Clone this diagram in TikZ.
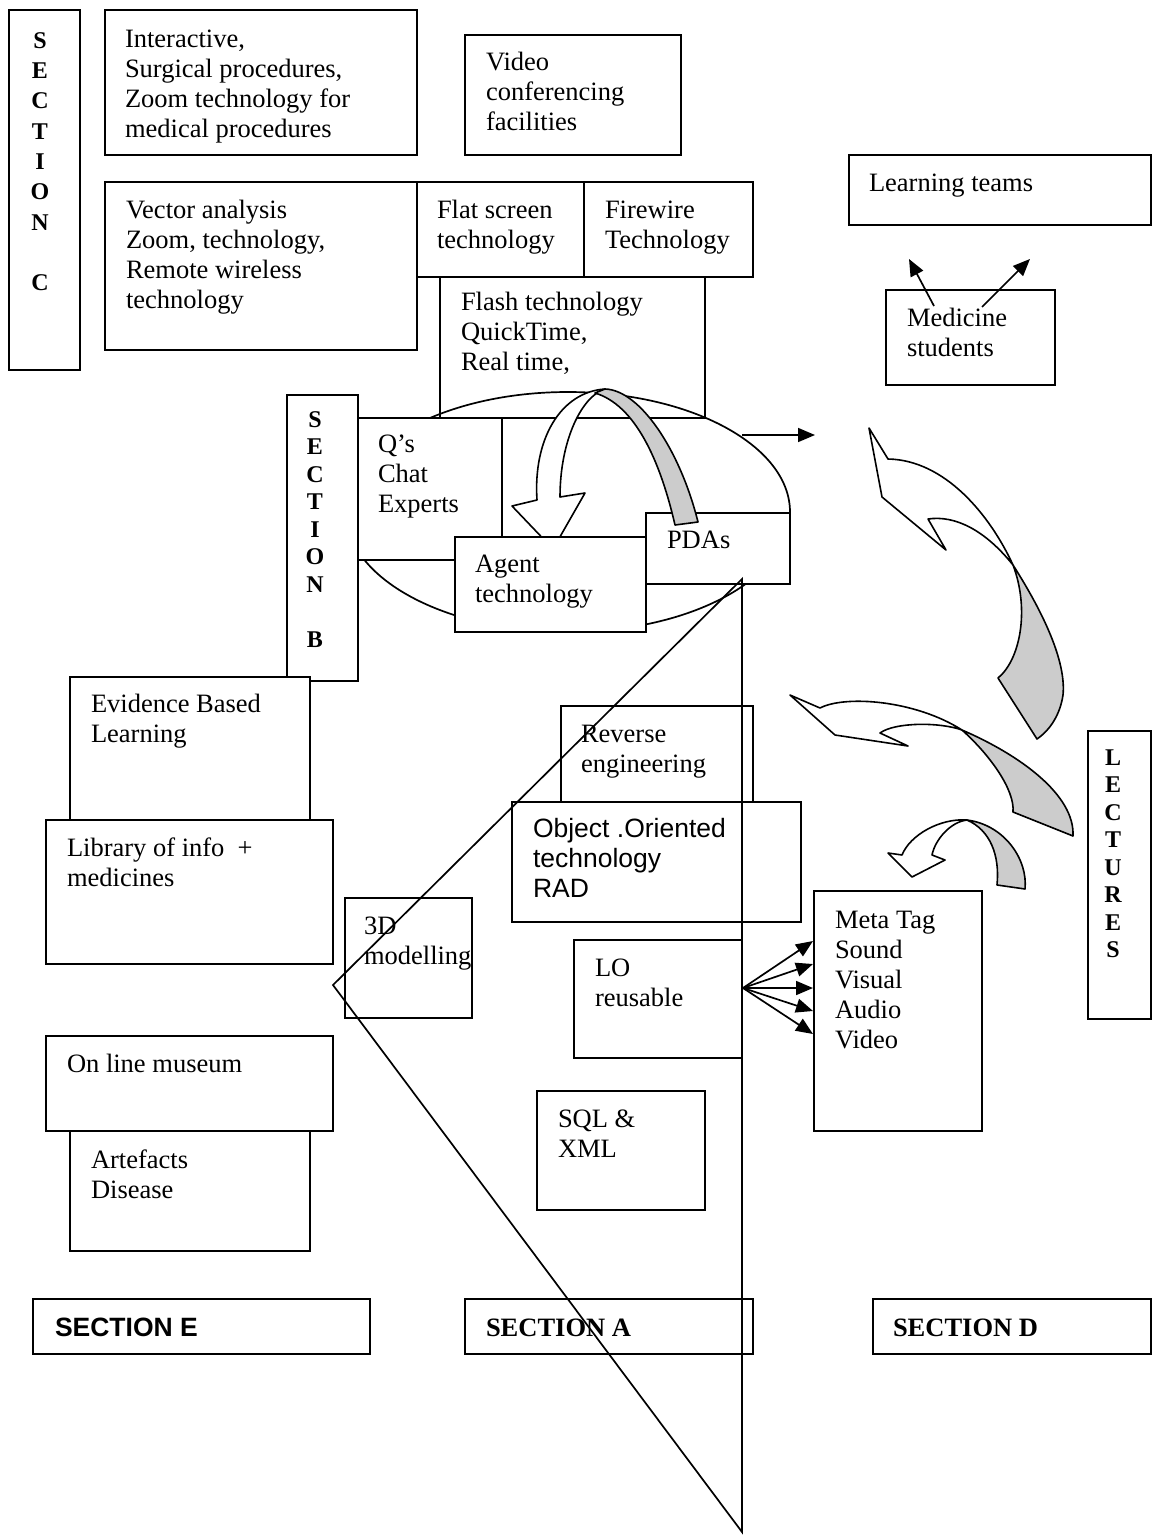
\documentclass[tikz,border=0pt]{standalone}
\usepackage{fontspec}
\setmainfont{Liberation Serif}
\newfontfamily\arialfont{Liberation Sans}
\usetikzlibrary{arrows.meta}
\definecolor{bandgrey}{RGB}{204,204,204}
\tikzset{
 box/.style={draw, line width=1.9pt, fill=white, inner sep=0pt, outer sep=0pt, anchor=north west},
 txt/.style={anchor=north west, align=left, inner sep=0pt, outer sep=0pt, font=\fontsize{26.5}{30}\selectfont},
 stxt/.style={txt, font=\arialfont\fontsize{26.5}{30}\selectfont},
 sbtxt/.style={txt, font=\arialfont\bfseries\fontsize{26.5}{30}\selectfont},
 btxt/.style={txt, font=\bfseries\fontsize{26.5}{30}\selectfont},
 vlet/.style={anchor=north, align=center, inner sep=0pt, outer sep=0pt, font=\bfseries\fontsize{24}{27.5}\selectfont},
 thinline/.style={line width=1.7pt},
 conn/.style={line width=1.7pt, -{Triangle[length=17pt,width=14pt]}},
 bandw/.style={draw, line width=1.6pt, fill=white, line join=round},
 bandg/.style={draw, line width=1.6pt, fill=bandgrey, line join=round},
}
\newcommand\mybox[5]{\node[box,minimum width={#4pt-#2pt},minimum height={#5pt-#3pt}] (#1) at (#2,#3) {};}
\begin{document}
\begin{tikzpicture}[x=1pt,y=-1pt]
\useasboundingbox (0,0) rectangle (1152,1537);
% top area
\mybox{secC}{9}{10}{80}{370}
\node[vlet, font=\bfseries\fontsize{24}{30.3}\selectfont] (secC-t) at (40,27) {\strut S\\E\\C\\T\\I\\O\\N\\~\\C};
\mybox{inter}{105}{10}{417}{155}
\node[txt] (inter-t) at (125,26) {\strut Interactive,\\Surgical procedures,\\Zoom technology for\\medical procedures};
\mybox{video}{465}{35}{681}{155}
\node[txt] (video-t) at (486,49) {\strut Video\\conferencing\\facilities};
\mybox{learn}{849}{155}{1151}{225}
\node[txt] (learn-t) at (869,170) {\strut Learning teams};
\mybox{vector}{105}{182}{417}{350}
\node[txt] (vector-t) at (126,197) {\strut Vector analysis\\Zoom, technology,\\Remote wireless\\technology};
\mybox{flat}{417}{182}{584}{277}
\node[txt] (flat-t) at (437,197) {\strut Flat screen\\technology};
\mybox{fire}{584}{182}{753}{277}
\node[txt] (fire-t) at (605,197) {\strut Firewire\\Technology};
\mybox{flash}{440}{277}{705}{418}
\node[txt] (flash-t) at (461,289) {\strut Flash technology\\QuickTime,\\Real time,};
\mybox{med}{886}{290}{1055}{385}
\node[txt] (med-t) at (907,305) {\strut Medicine\\students};
% ellipse cluster
\draw[thinline] (568,512) ellipse [x radius=222, y radius=120];
\mybox{secB}{287}{395}{358}{681}
\node[vlet] (secB-t) at (315,408) {\strut S\\E\\C\\T\\I\\O\\N\\~\\B};
\mybox{qs}{358}{418}{502}{560}
\node[txt] (qs-t) at (378,431) {\strut Q’s\\Chat\\Experts};
% white part of curved arrow
\path[bandw] (537,500) .. controls (533,440) and (560,392) .. (605,389)
  .. controls (582,396) and (560,440) .. (560,497) -- (585,493) -- (553,549) -- (512,506) -- cycle;
\mybox{agent}{455}{537}{646}{632}
\node[txt] (agent-t) at (475,551) {\strut Agent\\technology};
\mybox{pdas}{646}{513}{790}{584}
\node[txt] (pdas-t) at (667,527) {\strut PDAs};
\path[bandg] (605,389) .. controls (640,390) and (680,450) .. (698,522) -- (675,525)
  .. controls (660,460) and (635,405) .. (595,393) -- cycle;
% left column
\mybox{evid}{70}{677}{310}{820}
\node[txt] (evid-t) at (91,691) {\strut Evidence Based\\Learning};
\mybox{lib}{46}{820}{333}{964}
\node[txt] (lib-t) at (67,835) {\strut Library of info \ +\\medicines};
\mybox{mus}{46}{1036}{333}{1131}
\node[txt] (mus-t) at (67,1051) {\strut On line museum};
\mybox{art}{70}{1131}{310}{1251}
\node[txt] (art-t) at (91,1147) {\strut Artefacts\\Disease};
% middle column
\mybox{tdm}{345}{898}{472}{1018}
\node[txt] (tdm-t) at (364,913) {\strut 3D\\modelling};
\mybox{rev}{561}{706}{753}{802}
\node[txt] (rev-t) at (581,721) {\strut Reverse\\engineering};
\mybox{oo}{512}{802}{801}{922}
\node[stxt] (oo-t) at (533,816) {\strut Object .Oriented\\technology\\RAD};
\mybox{lo}{574}{940}{742}{1058}
\node[txt] (lo-t) at (595,955) {\strut LO\\reusable};
\mybox{sql}{537}{1091}{705}{1210}
\node[txt] (sql-t) at (558,1106) {\strut SQL \&\\XML};
% right column
\mybox{meta}{814}{891}{982}{1131}
\node[txt] (meta-t) at (835,907) {\strut Meta Tag\\Sound\\Visual\\Audio\\Video};
\mybox{lect}{1088}{731}{1151}{1019}
\node[vlet] (lect-t) at (1113,746) {\strut L\\E\\C\\T\\U\\R\\E\\S};
% section labels
\mybox{secE}{33}{1299}{370}{1354}
\node[sbtxt] (secE-t) at (55,1315) {\strut SECTION E};
\mybox{secA}{465}{1299}{753}{1354}
\node[btxt] (secA-t) at (486,1315) {\strut SECTION A};
\mybox{secD}{873}{1299}{1151}{1354}
\node[btxt] (secD-t) at (893,1315) {\strut SECTION D};
% triangle
\coordinate (apex) at (742,579);
\coordinate (left) at (333,985);
\coordinate (foot) at (742,1532);
\draw[thinline, line join=miter] (apex) -- (left) -- (foot) -- cycle;
% straight arrows
\coordinate (ell-out) at (742,435);
\coordinate (ell-tip) at (815,435);
\draw[conn] (ell-out) -- (ell-tip);
\coordinate (lo-out) at (743,988);
\foreach \yy [count=\i] in {941,964,988,1011,1034}{
  \coordinate (meta-in\i) at (813,\yy);
  \draw[conn] (lo-out) -- (meta-in\i);
}
\coordinate (med-a) at (934,306);
\coordinate (med-b) at (982,307);
\coordinate (learn-a) at (909,259);
\coordinate (learn-b) at (1030,259);
\draw[conn] (med-a) -- (learn-a);
\draw[conn] (med-b) -- (learn-b);
% curved block arrows on the right
\path[bandw] (869,428) -- (888,459) .. controls (945,460) and (990,515) .. (1013,565)
  .. controls (985,530) and (955,515) .. (928,519) -- (946,550) -- (882,497) -- cycle;
\path[bandg] (1013,565) .. controls (1048,620) and (1066,665) .. (1063,695)
  .. controls (1060,715) and (1050,730) .. (1037,739) -- (998,678)
  .. controls (1020,660) and (1030,610) .. (1013,565) -- cycle;
\path[bandw] (790,695) -- (820,708) .. controls (845,695) and (915,700) .. (962,730)
  .. controls (940,722) and (895,722) .. (880,733) -- (908,746) -- (835,735) -- cycle;
\path[bandg] (962,730) .. controls (1020,755) and (1075,795) .. (1073,836) -- (1013,812)
  .. controls (1015,790) and (990,755) .. (962,730) -- cycle;
\path[bandw] (912,877) -- (888,853) -- (902,855) .. controls (910,835) and (940,818) .. (967,820)
  .. controls (950,822) and (935,840) .. (932,855) -- (945,860) -- cycle;
\path[bandg] (967,820) .. controls (1005,825) and (1028,860) .. (1025,889) -- (997,885)
  .. controls (1000,855) and (990,830) .. (967,820) -- cycle;
\end{tikzpicture}
\end{document}
